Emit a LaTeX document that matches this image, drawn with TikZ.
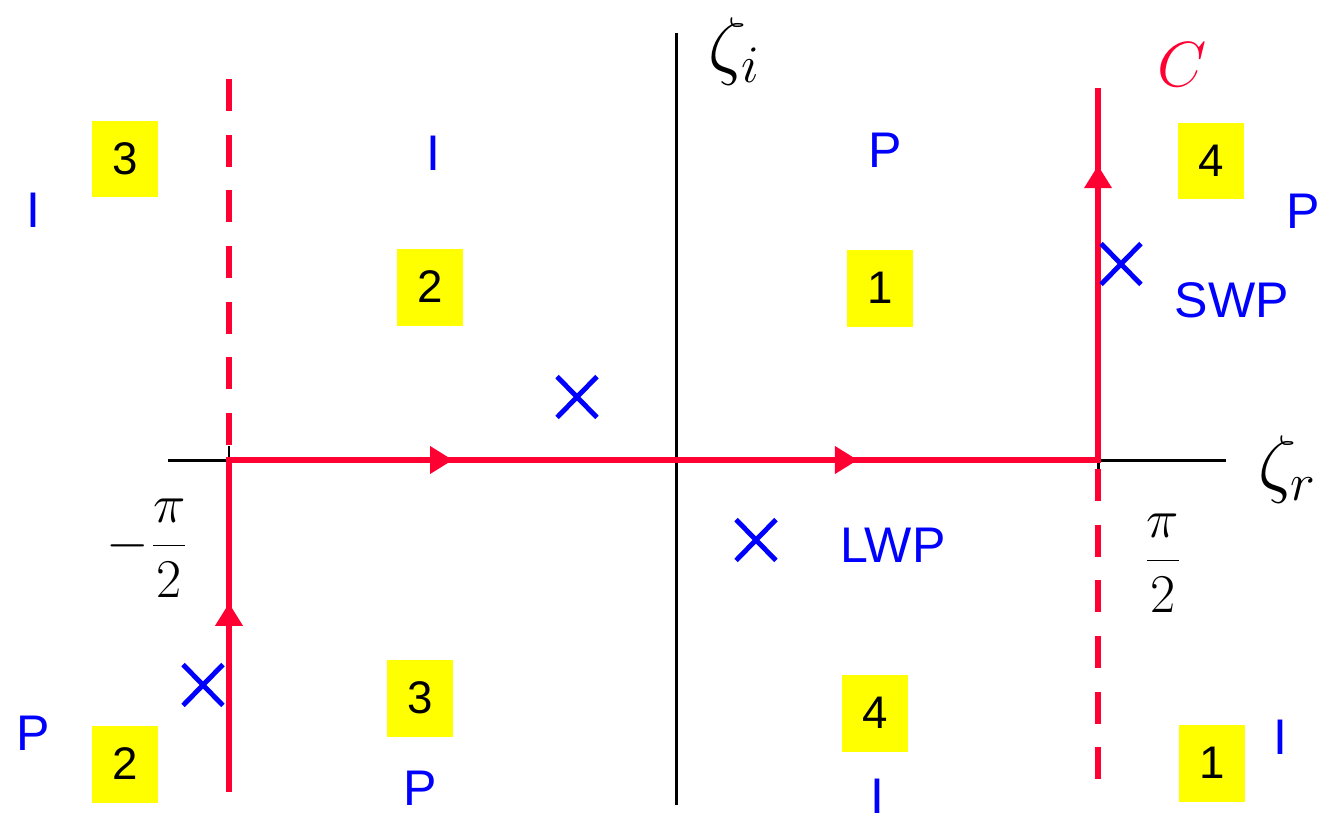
\documentclass[tikz,border=0pt]{standalone}
\usepackage{fontspec}
\newfontfamily\arialf{Liberation Sans}
\usetikzlibrary{arrows.meta,decorations.markings,shapes.misc}
\definecolor{cred}{RGB}{255,0,51}
\definecolor{cblue}{RGB}{0,0,255}
\definecolor{cyel}{RGB}{255,255,0}
\begin{document}
\begin{tikzpicture}[x=0.02cm,y=-0.02cm,
  axisline/.style={line width=1.7pt,black},
  contour/.style={line width=3.4pt,cred,postaction={decorate},
    decoration={markings,
      mark=at position 3.78cm with {\arrow{Triangle[length=13pt,width=15pt]}},
      mark=at position 11.12cm with {\arrow{Triangle[length=13pt,width=15pt]}},
      mark=at position 19.22cm with {\arrow{Triangle[length=13pt,width=15pt]}},
      mark=at position 29.92cm with {\arrow{Triangle[length=13pt,width=15pt]}}}},
  reddash/.style={line width=3.4pt,cred,dash pattern=on 18.1pt off 13.6pt},
  numbox/.style={fill=cyel,minimum width=1.32cm,minimum height=1.54cm,inner sep=0pt,
    font=\arialf\fontsize{26}{30}\selectfont},
  lbl/.style={text=cblue,inner sep=0pt,font=\arialf\fontsize{28.5}{34}\selectfont},
  crossmark/.style={cross out,draw=cblue,line width=2.8pt,minimum width=0.7cm,minimum height=0.72cm,inner sep=0pt},
  mathbig/.style={inner sep=0pt,font=\LARGE,scale=2.1},
  mathzeta/.style={inner sep=0pt,font=\LARGE,scale=2.5},
  mathfrac/.style={inner sep=0pt,font=\LARGE,scale=1.8}
]
\useasboundingbox (0,0) rectangle (1327,822);
% axes
\coordinate (xl) at (168,460);
\coordinate (xr) at (1226,460);
\coordinate (yb) at (676,805);
\coordinate (yt) at (676,33);
\draw[axisline] (xl) -- (xr);
\draw[axisline] (yb) -- (yt);
% small ticks
\coordinate (t1a) at (229,446);
\coordinate (t1b) at (229,460);
\coordinate (t2a) at (1098,460);
\coordinate (t2b) at (1098,470);
\draw[axisline] (t1a) -- (t1b);
\draw[axisline] (t2a) -- (t2b);
% contour
\coordinate (c0) at (229,792);
\coordinate (c1) at (229,460);
\coordinate (c2) at (1098,460);
\coordinate (c3) at (1098,88);
\draw[contour] (c0) -- (c1) -- (c2) -- (c3);
% dashed continuations
\coordinate (d1) at (229,79);
\coordinate (d1e) at (229,449);
\coordinate (d2) at (1098,469);
\coordinate (d2e) at (1098,781);
\draw[reddash] (d1) -- (d1e);
\draw[reddash] (d2) -- (d2e);
% yellow boxes
\node[numbox] (n3a) at (125,159) {3};
\node[numbox] (n2a) at (430,287) {2};
\node[numbox] (n1a) at (880,288) {1};
\node[numbox] (n4a) at (1211,161) {4};
\node[numbox] (n3b) at (420,698) {3};
\node[numbox] (n2b) at (125,764) {2};
\node[numbox] (n4b) at (875,713) {4};
\node[numbox] (n1b) at (1212,763) {1};
% blue labels
\node[lbl] (l1) at (33,210) {I};
\node[lbl] (l2) at (433,153) {I};
\node[lbl] (l3) at (885,150) {P};
\node[lbl] (l4) at (1303,211) {P};
\node[lbl] (swp) at (1232,300) {SWP};
\node[lbl] (lwp) at (893,545) {LWP};
\node[lbl] (l5) at (33,733) {P};
\node[lbl] (l6) at (420,788) {P};
\node[lbl] (l7) at (877,796) {I};
\node[lbl] (l8) at (1280,737) {I};
% crosses
\node[crossmark] (x1) at (577,397) {};
\node[crossmark] (x2) at (1121,264) {};
\node[crossmark] (x3) at (756,540) {};
\node[crossmark] (x4) at (203,685) {};
% math labels
\node[mathzeta] (zi) at (735,52) {$\zeta_i$};
\node[mathzeta] (zr) at (1288,470) {$\zeta_r$};
\node[mathfrac] (mpi) at (148,548) {$\displaystyle -\frac{\pi}{2}$};
\node[mathfrac] (ppi) at (1163,563) {$\displaystyle \frac{\pi}{2}$};
\node[mathbig,text=cred] (cl) at (1182,65) {$C$};
\end{tikzpicture}
\end{document}
